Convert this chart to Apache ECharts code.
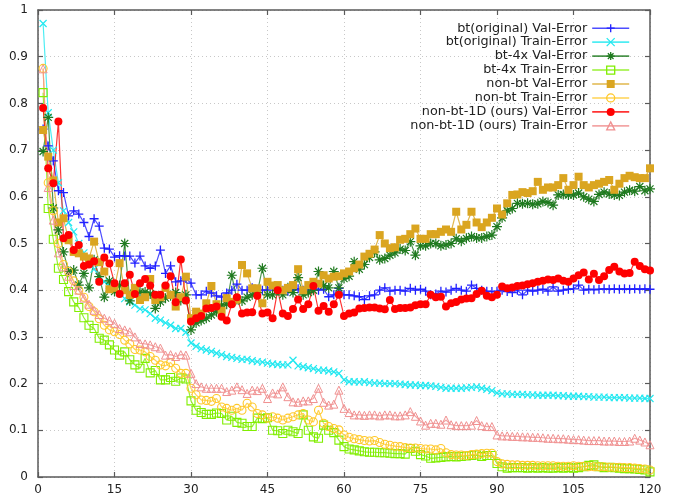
<!DOCTYPE html>
<html>
<head>
<meta charset="utf-8">
<script src="https://cdn.jsdelivr.net/npm/echarts@6/dist/echarts.min.js"></script>
<style>html,body{margin:0;padding:0;background:#fff}#c{width:688px;height:498px}</style>
</head>
<body>
<div id="c"></div>
<script>
const xTicks = [0, 15, 30, 45, 60, 75, 90, 105, 120];
const yTicks = [0, 0.1, 0.2, 0.3, 0.4, 0.5, 0.6, 0.7, 0.8, 0.9, 1];
const epochs = Array.from({length: 120}, (_, i) => i + 1);

const seriesNames = [
  'bt(original) Val-Error', 'bt(original) Train-Error',
  'bt-4x Val-Error', 'bt-4x Train-Error',
  'non-bt Val-Error', 'non-bt Train-Error',
  'non-bt-1D (ours) Val-Error', 'non-bt-1D (ours) Train-Error'
];

const btVal = [
  0.745,0.709,0.677,0.613,0.609,0.559,0.570,0.563,0.545,0.515,
  0.553,0.537,0.490,0.488,0.471,0.474,0.473,0.473,0.458,0.473,
  0.452,0.447,0.452,0.486,0.436,0.452,0.418,0.420,0.425,0.415,
  0.390,0.390,0.398,0.394,0.388,0.385,0.394,0.400,0.413,0.400,
  0.400,0.405,0.400,0.400,0.400,0.405,0.400,0.400,0.398,0.400,
  0.403,0.400,0.400,0.403,0.400,0.402,0.386,0.390,0.404,0.390,
  0.390,0.388,0.386,0.380,0.388,0.390,0.400,0.405,0.398,0.400,
  0.400,0.398,0.404,0.400,0.402,0.398,0.390,0.392,0.398,0.396,
  0.400,0.404,0.400,0.398,0.411,0.404,0.400,0.398,0.397,0.398,
  0.400,0.397,0.395,0.400,0.390,0.400,0.398,0.400,0.402,0.398,
  0.407,0.398,0.400,0.402,0.403,0.411,0.400,0.402,0.401,0.402,
  0.403,0.402,0.403,0.402,0.403,0.402,0.403,0.402,0.403,0.402
];
const btTrain = [
  0.971,0.780,0.700,0.630,0.570,0.545,0.525,0.500,0.480,0.460,
  0.445,0.430,0.418,0.410,0.405,0.395,0.382,0.375,0.368,0.360,
  0.358,0.350,0.340,0.336,0.330,0.325,0.318,0.318,0.310,0.287,
  0.280,0.275,0.272,0.269,0.265,0.262,0.258,0.256,0.254,0.252,
  0.252,0.249,0.247,0.246,0.244,0.242,0.241,0.240,0.240,0.250,
  0.238,0.236,0.234,0.232,0.229,0.229,0.227,0.225,0.222,0.208,
  0.204,0.204,0.203,0.204,0.202,0.201,0.201,0.200,0.200,0.200,
  0.199,0.198,0.197,0.197,0.196,0.196,0.195,0.194,0.192,0.190,
  0.190,0.190,0.190,0.191,0.192,0.193,0.190,0.188,0.185,0.180,
  0.178,0.178,0.177,0.177,0.177,0.176,0.176,0.175,0.175,0.175,
  0.175,0.174,0.174,0.173,0.173,0.173,0.172,0.172,0.171,0.171,
  0.171,0.170,0.170,0.170,0.170,0.169,0.169,0.169,0.168,0.168
];
const bt4xVal = [
  0.697,0.770,0.576,0.529,0.482,0.440,0.443,0.411,0.436,0.405,
  0.465,0.429,0.385,0.420,0.397,0.410,0.500,0.377,0.400,0.396,
  0.396,0.392,0.361,0.375,0.383,0.388,0.395,0.378,0.390,0.315,
  0.330,0.335,0.340,0.347,0.354,0.368,0.370,0.432,0.380,0.377,
  0.385,0.390,0.395,0.447,0.390,0.390,0.400,0.390,0.405,0.395,
  0.427,0.390,0.395,0.400,0.440,0.410,0.405,0.440,0.405,0.425,
  0.430,0.461,0.445,0.455,0.470,0.482,0.465,0.468,0.475,0.480,
  0.488,0.485,0.504,0.475,0.495,0.495,0.500,0.500,0.495,0.497,
  0.500,0.510,0.505,0.511,0.515,0.512,0.512,0.515,0.518,0.536,
  0.555,0.570,0.575,0.586,0.585,0.586,0.584,0.585,0.590,0.588,
  0.582,0.604,0.605,0.604,0.604,0.608,0.600,0.595,0.590,0.605,
  0.610,0.606,0.604,0.603,0.610,0.614,0.612,0.622,0.613,0.617
];
const bt4xTrain = [
  0.823,0.575,0.509,0.447,0.423,0.397,0.375,0.363,0.341,0.325,
  0.318,0.297,0.293,0.283,0.272,0.261,0.268,0.251,0.240,0.233,
  0.254,0.223,0.228,0.208,0.208,0.213,0.205,0.212,0.210,0.163,
  0.143,0.138,0.134,0.134,0.137,0.136,0.122,0.130,0.117,0.115,
  0.108,0.108,0.126,0.125,0.127,0.100,0.099,0.093,0.100,0.097,
  0.093,0.133,0.100,0.086,0.083,0.111,0.100,0.095,0.079,0.065,
  0.060,0.058,0.056,0.054,0.053,0.053,0.052,0.052,0.051,0.050,
  0.050,0.049,0.061,0.055,0.048,0.045,0.040,0.041,0.042,0.043,
  0.044,0.043,0.044,0.045,0.046,0.047,0.044,0.046,0.046,0.029,
  0.022,0.019,0.020,0.020,0.020,0.019,0.020,0.019,0.020,0.019,
  0.019,0.020,0.019,0.020,0.019,0.020,0.022,0.025,0.026,0.022,
  0.020,0.021,0.020,0.019,0.018,0.018,0.017,0.016,0.015,0.011
];
const nonBtVal = [
  0.743,0.686,0.635,0.545,0.554,0.507,0.482,0.479,0.472,0.468,
  0.504,0.460,0.440,0.402,0.405,0.458,0.400,0.390,0.405,0.379,
  0.385,0.424,0.379,0.385,0.405,0.390,0.365,0.385,0.429,0.340,
  0.354,0.350,0.372,0.409,0.370,0.356,0.383,0.375,0.380,0.454,
  0.436,0.404,0.404,0.372,0.418,0.410,0.411,0.400,0.405,0.411,
  0.445,0.400,0.411,0.418,0.414,0.432,0.425,0.429,0.430,0.436,
  0.440,0.447,0.455,0.472,0.478,0.487,0.518,0.500,0.490,0.492,
  0.508,0.510,0.520,0.532,0.510,0.510,0.520,0.520,0.525,0.530,
  0.525,0.568,0.530,0.540,0.568,0.545,0.535,0.545,0.555,0.575,
  0.562,0.586,0.604,0.605,0.610,0.608,0.612,0.632,0.615,0.620,
  0.620,0.625,0.640,0.615,0.625,0.643,0.625,0.620,0.625,0.628,
  0.632,0.636,0.615,0.628,0.640,0.645,0.642,0.640,0.640,0.661
];
const nonBtTrain = [
  0.875,0.630,0.570,0.500,0.455,0.440,0.420,0.400,0.385,0.365,
  0.354,0.339,0.325,0.315,0.311,0.305,0.293,0.285,0.273,0.272,
  0.268,0.258,0.250,0.240,0.238,0.245,0.233,0.222,0.222,0.190,
  0.176,0.165,0.164,0.162,0.168,0.150,0.147,0.143,0.147,0.143,
  0.158,0.150,0.136,0.133,0.126,0.129,0.126,0.122,0.126,0.129,
  0.133,0.136,0.122,0.118,0.143,0.115,0.108,0.104,0.101,0.090,
  0.085,0.082,0.080,0.078,0.077,0.078,0.074,0.070,0.068,0.066,
  0.065,0.063,0.062,0.062,0.061,0.060,0.060,0.058,0.061,0.052,
  0.048,0.047,0.047,0.046,0.048,0.049,0.050,0.051,0.051,0.033,
  0.028,0.027,0.026,0.026,0.025,0.025,0.025,0.024,0.024,0.024,
  0.024,0.023,0.023,0.023,0.024,0.023,0.023,0.022,0.022,0.022,
  0.022,0.021,0.021,0.021,0.020,0.020,0.019,0.018,0.017,0.015
];
const oursVal = [
  0.790,0.661,0.629,0.761,0.511,0.518,0.486,0.497,0.452,0.455,
  0.462,0.418,0.470,0.457,0.415,0.392,0.415,0.433,0.392,0.415,
  0.424,0.410,0.390,0.390,0.410,0.430,0.374,0.466,0.378,0.333,
  0.340,0.345,0.361,0.362,0.365,0.343,0.335,0.370,0.385,0.350,
  0.352,0.353,0.388,0.350,0.352,0.340,0.400,0.350,0.345,0.360,
  0.380,0.360,0.370,0.409,0.356,0.366,0.354,0.370,0.390,0.345,
  0.350,0.352,0.361,0.362,0.363,0.363,0.361,0.359,0.379,0.360,
  0.362,0.362,0.363,0.368,0.370,0.370,0.390,0.385,0.386,0.365,
  0.372,0.375,0.380,0.382,0.383,0.392,0.399,0.388,0.385,0.390,
  0.408,0.404,0.406,0.409,0.410,0.413,0.415,0.418,0.420,0.423,
  0.422,0.425,0.420,0.418,0.425,0.432,0.438,0.423,0.435,0.422,
  0.430,0.443,0.450,0.440,0.436,0.437,0.461,0.452,0.445,0.442
];
const oursTrain = [
  0.874,0.620,0.550,0.480,0.450,0.430,0.410,0.400,0.383,0.370,
  0.357,0.348,0.340,0.335,0.329,0.318,0.315,0.311,0.300,0.286,
  0.285,0.283,0.279,0.276,0.261,0.262,0.258,0.262,0.261,0.222,
  0.200,0.193,0.190,0.190,0.190,0.190,0.183,0.186,0.193,0.187,
  0.179,0.186,0.185,0.190,0.168,0.180,0.178,0.193,0.172,0.161,
  0.160,0.163,0.163,0.168,0.190,0.160,0.154,0.156,0.186,0.147,
  0.138,0.133,0.133,0.132,0.133,0.133,0.131,0.133,0.133,0.131,
  0.131,0.133,0.140,0.130,0.120,0.111,0.115,0.115,0.113,0.122,
  0.112,0.110,0.110,0.110,0.111,0.121,0.110,0.108,0.108,0.090,
  0.088,0.088,0.087,0.087,0.086,0.086,0.085,0.085,0.084,0.083,
  0.083,0.082,0.082,0.081,0.080,0.080,0.079,0.078,0.078,0.078,
  0.077,0.077,0.077,0.076,0.076,0.077,0.083,0.079,0.075,0.069
];

const values = [btVal, btTrain, bt4xVal, bt4xTrain, nonBtVal, nonBtTrain, oursVal, oursTrain];
const colors = ['#2020ff', '#22e8f0', '#1f7a1f', '#80ee00', '#daa520', '#ffc828', '#ff0000', '#f09090'];
const PLUS = 'path://M0,-10V10M-10,0H10';
const CROSS = 'path://M-10,-10L10,10M-10,10L10,-10';
const STAR = 'path://M0,-10V10M-10,0H10M-7.07,-7.07L7.07,7.07M-7.07,7.07L7.07,-7.07';
const marks = [
  {symbol: PLUS, size: 9, filled: false, bw: 1.3},
  {symbol: CROSS, size: 7, filled: false, bw: 1.2},
  {symbol: STAR, size: 10, filled: false, bw: 1.2},
  {symbol: 'rect', size: 8, filled: false, bw: 1.1},
  {symbol: 'rect', size: 8, filled: true, bw: 0},
  {symbol: 'circle', size: 8, filled: false, bw: 1.1},
  {symbol: 'circle', size: 8, filled: true, bw: 0},
  {symbol: 'triangle', size: 8, filled: false, bw: 1.0}
];

const series = seriesNames.map((name, k) => {
  const m = marks[k];
  return {
    name: name,
    type: 'line',
    data: epochs.map((e, i) => [e, values[k][i]]),
    symbol: m.symbol,
    symbolSize: m.size,
    showSymbol: true,
    showAllSymbol: true,
    animation: false,
    lineStyle: {color: colors[k], width: 1.2, opacity: 0.8},
    itemStyle: m.filled
      ? {color: colors[k], borderWidth: 0}
      : {color: 'none', borderColor: colors[k], borderWidth: m.bw},
    emphasis: {disabled: true}
  };
});

const frameColor = '#5a5a5a';
const labelStyle = {color: '#222', fontFamily: 'DejaVu Sans', fontSize: 12};

const chart = echarts.init(document.getElementById('c'), null, {renderer: 'canvas'});
chart.setOption({
  backgroundColor: '#ffffff',
  animation: false,
  color: colors,
  grid: {left: 38, right: 38, top: 10, bottom: 21, containLabel: false},
  legend: {
    orient: 'vertical',
    right: 53,
    top: 16,
    align: 'right',
    itemWidth: 37,
    itemHeight: 10,
    itemGap: -0.45,
    selectedMode: false,
    itemStyle: {borderWidth: 1.3},
    lineStyle: {width: 1.6},
    textStyle: {color: '#222', fontFamily: 'DejaVu Sans', fontSize: 12.8, lineHeight: 14.4},
    data: seriesNames
  },
  xAxis: [
    {
      type: 'value', min: xTicks[0], max: xTicks[xTicks.length - 1], interval: 15,
      axisLine: {show: true, onZero: false, lineStyle: {color: frameColor, width: 1.5}},
      axisTick: {show: true, inside: true, length: 5, lineStyle: {color: frameColor, width: 1.2}},
      axisLabel: Object.assign({margin: 7}, labelStyle),
      splitLine: {show: true, lineStyle: {color: '#c8c8c8', type: [1, 3], width: 1}}
    },
    {
      type: 'value', position: 'top', min: xTicks[0], max: xTicks[xTicks.length - 1], interval: 15,
      axisLine: {show: true, onZero: false, lineStyle: {color: frameColor, width: 1.5}},
      axisTick: {show: true, inside: true, length: 5, lineStyle: {color: frameColor, width: 1.2}},
      axisLabel: {show: false},
      splitLine: {show: false}
    }
  ],
  yAxis: [
    {
      type: 'value', min: yTicks[0], max: yTicks[yTicks.length - 1], interval: 0.1,
      axisLine: {show: true, onZero: false, lineStyle: {color: frameColor, width: 1.5}},
      axisTick: {show: true, inside: true, length: 5, lineStyle: {color: frameColor, width: 1.2}},
      axisLabel: Object.assign({margin: 10, formatter: v => String(Math.round(v * 10) / 10)}, labelStyle),
      splitLine: {show: true, lineStyle: {color: '#c8c8c8', type: [1, 3], width: 1}}
    },
    {
      type: 'value', position: 'right', min: yTicks[0], max: yTicks[yTicks.length - 1], interval: 0.1,
      axisLine: {show: true, onZero: false, lineStyle: {color: frameColor, width: 1.5}},
      axisTick: {show: true, inside: true, length: 5, lineStyle: {color: frameColor, width: 1.2}},
      axisLabel: {show: false},
      splitLine: {show: false}
    }
  ],
  series: series
});
</script>
</body>
</html>
